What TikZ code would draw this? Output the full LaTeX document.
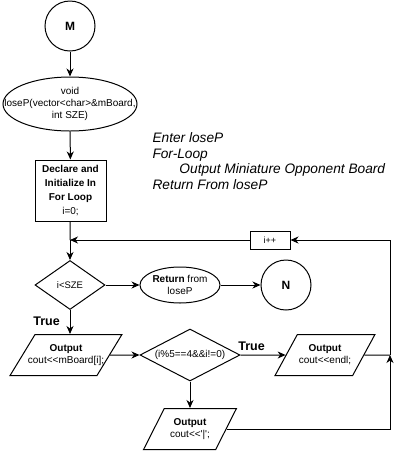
\documentclass[tikz,border=0pt]{standalone}
\usepackage{fontspec}
\setmainfont{Liberation Sans}
\usetikzlibrary{shapes.geometric, arrows.meta, positioning}
\tikzset{
    flow/.style = {
        -{Stealth[length=8pt, width=7pt, inset=2.5pt]},
    },
    conn/.style = {
        draw, circle,
        inner sep     = 0pt,
        minimum size  = 50pt,
        font          = \fontsize{12}{14}\selectfont\bfseries,
    },
    term/.style     = {draw, ellipse, inner sep = 0pt},
    proc/.style     = {draw, rectangle, inner sep = 0pt, align = center},
    decision/.style = {draw, diamond, inner sep = 0pt},
    io/.style = {
        draw, trapezium,
        trapezium stretches   = true,
        trapezium left angle  = 64,
        trapezium right angle = 116,
        inner sep             = 0pt,
        minimum height        = 41pt,
    },
    txt/.style = {
        align     = center,
        inner sep = 0pt,
        font      = \fontsize{10}{12}\selectfont,
    },
    truelbl/.style = {inner sep = 0pt, font = \fontsize{12.5}{14}\selectfont\bfseries},
    note/.style = {
        align     = left,
        inner sep = 0pt,
        font      = \fontsize{13.7}{15.6}\selectfont\itshape,
    },
}

\begin{document}
\begin{tikzpicture}[x=1pt, y=-1pt, line width=1pt]
    \useasboundingbox (0,0) rectangle (402,451);

    \node (M) [conn] at (70,26) {M};
    \node (entry) [term, minimum width=134pt, minimum height=54pt] at (70,104) {};
    \node (entryt) [txt] at (entry) {void\\loseP(vector<char>\&mBoard,\\int SZE)};

    \node (init) [proc, minimum width=71pt, minimum height=61pt, font=\fontsize{10}{13.7}\selectfont] at (70.5,190.5)
        {\textbf{Declare and}\\\textbf{Initialize In}\\\textbf{For Loop}\\i=0;};
    \coordinate (mrg) at (70,240);

    \node (loop) [decision, minimum width=70pt, minimum height=49pt, font=\fontsize{9.5}{11}\selectfont] at (70,285) {i<SZE};
    \node (ret) [term, minimum width=80pt, minimum height=36pt] at (180,285) {};
    \node (rett) [txt] at (ret) {\textbf{Return} from\\loseP};
    \node (N) [conn] at (286,285) {N};

    \node (true1) [truelbl] at (46.5,321) {True};
    \node (io1) [io, minimum width=112pt] at (66,355) {\phantom{M}};
    \node (io1t) [txt] at (io1) {\textbf{Output}\\cout<{}<mBoard[i];};

    \node (chk) [decision, minimum width=100pt, minimum height=52pt] at (190,355) {};
    \node (chkt) [txt] at (chk) {(i\%5==4\&\&i!=0)};

    \node (true2) [truelbl] at (251.5,346) {True};
    \node (io3) [io, minimum width=100pt] at (325,355) {\phantom{M}};
    \node (io3t) [txt] at (io3) {\textbf{Output}\\cout<{}<endl;};

    \node (io2) [io, minimum width=93pt] at (190,429) {\phantom{M}};
    \node (io2t) [txt] at (io2) {\textbf{Output}\\cout<{}<\textquotesingle|\textquotesingle;};

    \node (inc) [proc, minimum width=40pt, minimum height=18pt, font=\fontsize{9}{11}\selectfont] at (270,240) {i++};
    \coordinate (rj) at (390,355);

    \node (notes) [note, anchor=north west] at (152,132)
        {Enter loseP\\For-Loop\\\hspace*{27pt}Output Miniature Opponent Board\\Return From loseP};

    \draw [flow] (M) -- (entry);
    \draw [flow] (entry) -- (init);
    \draw (init) -- (mrg);
    \draw [flow] (mrg) -- (loop);
    \draw [flow] (loop) -- (ret);
    \draw [flow] (ret) -- (N);
    \draw [flow] (loop) -- (loop |- io1.north);
    \draw [flow] (io1) -- (chk);
    \draw [flow] (chk) -- (io3);
    \draw [flow] (chk) -- (io2);
    \draw (io3) -- (rj);
    \draw [flow] (io2) -| (rj);
    \draw [flow] (rj) |- (inc);
    \draw [flow] (inc) -- (mrg);
\end{tikzpicture}
\end{document}
